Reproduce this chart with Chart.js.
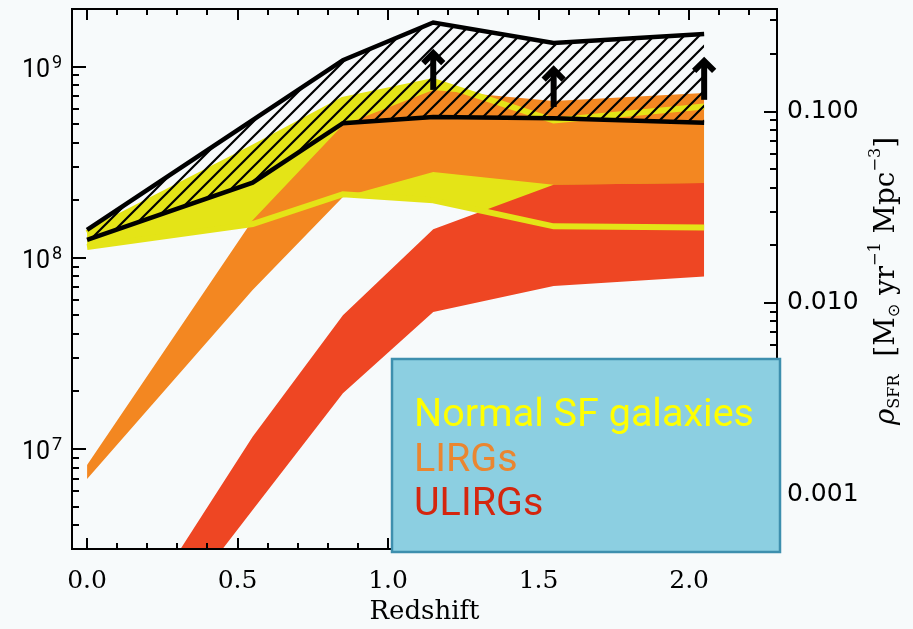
<!DOCTYPE html>
<html><head><meta charset="utf-8">
<script src="https://cdn.jsdelivr.net/npm/chart.js@4.4.0/dist/chart.umd.min.js"></script>
<style>html,body{margin:0;padding:0;background:#f7fafb;} #wrap{width:913px;height:629px;}</style>
</head><body><div id="wrap"><canvas id="c" width="913" height="629"></canvas></div>
<script>
// ---- data ----
const redshift     = [0, 0.55, 0.85, 1.15, 1.55, 2.05];
const totalUpper   = [1.40e8, 5.25e8, 1.08e9, 1.70e9, 1.33e9, 1.48e9];
const totalLower   = [1.24e8, 2.47e8, 5.06e8, 5.45e8, 5.37e8, 5.09e8];
const normalUpper  = [1.35e8, 3.75e8, 6.70e8, 8.40e8, 5.22e8, 6.19e8];
const normalLower  = [1.14e8, 1.50e8, 2.15e8, 2.00e8, 1.46e8, 1.44e8];
const lirgUpper    = [8.24e6, 1.57e8, 4.95e8, 7.55e8, 6.60e8, 7.28e8];
const lirgLower    = [6.96e6, 6.78e7, 2.08e8, 2.81e8, 2.41e8, 2.46e8];
const ulirgUpper   = [5.2e5, 1.16e7, 5.01e7, 1.41e8, 2.41e8, 2.46e8];
const ulirgLower   = [3.6e5, 4.8e6, 1.96e7, 5.2e7, 7.13e7, 7.98e7];
const arrowRedshift = [1.15, 1.55, 2.05];
const arrowFrom     = [7.55e8, 6.15e8, 6.70e8];
const arrowTo       = [1.22e9, 1.00e9, 1.11e9];
const xTickValues   = [0, 0.5, 1.0, 1.5, 2.0];
const xTickLabels   = ['0.0', '0.5', '1.0', '1.5', '2.0'];
const xMinorStep    = 0.1;
const yTickValues   = [1e7, 1e8, 1e9];
const yTickBases    = ['10', '10', '10'];
const yTickExps     = ['7', '8', '9'];
const sfrTickValues = [0.001, 0.01, 0.1];
const sfrTickLabels = ['0.001', '0.010', '0.100'];
const seriesNames   = ['Normal SF galaxies', 'LIRGs', 'ULIRGs'];
const xLabel = 'Redshift';
const lumToSfr = 1.72e-10;
const xMin = -0.05, xMax = 2.292;
const yMin = 3e6, yMax = 2e9;

// ---- styles ----
const C_YEL = '#e4e417', C_ORA = '#f38721', C_RED = '#ee4623';
const T_YEL = '#ffff00', T_ORA = '#ea8630', T_RED = '#d4260e';

function pts(arr) { return redshift.map((x, i) => ({x: x, y: arr[i]})); }
function hatchPattern() {
  const c = document.createElement('canvas'); c.width = 15; c.height = 15;
  const g = c.getContext('2d');
  g.strokeStyle = '#000'; g.lineWidth = 2.2;
  g.beginPath();
  g.moveTo(-3, 18); g.lineTo(18, -3);
  g.moveTo(-3, 3); g.lineTo(3, -3);
  g.moveTo(12, 18); g.lineTo(18, 12);
  g.stroke();
  return g.createPattern(c, 'repeat');
}
function ds(arr, opts) {
  return Object.assign({data: pts(arr), pointRadius: 0, pointHoverRadius: 0, borderWidth: 0,
    borderColor: 'transparent', backgroundColor: 'transparent', fill: false, tension: 0}, opts);
}
const datasets = [
  ds(normalLower, {label: 'normalLowerEdge'}),                                  // 0
  ds(normalUpper, {label: seriesNames[0], fill: 0, backgroundColor: C_YEL}),   // 1
  ds(lirgLower,   {label: 'lirgLowerEdge'}),                                    // 2
  ds(lirgUpper,   {label: seriesNames[1], fill: 2, backgroundColor: C_ORA}),   // 3
  ds(ulirgLower,  {label: 'ulirgLowerEdge'}),                                   // 4
  ds(ulirgUpper,  {label: seriesNames[2], fill: 4, backgroundColor: C_RED}),   // 5
  ds(normalLower, {label: 'normalLowerLine', borderColor: C_YEL, borderWidth: 6}), // 6
  ds(normalUpper, {label: 'normalUpperLine', borderColor: C_YEL, borderWidth: 6}), // 7
  ds(totalLower,  {label: 'totalLower', borderColor: '#000', borderWidth: 4.5}),     // 8
  ds(totalUpper,  {label: 'totalUpper', borderColor: '#000', borderWidth: 4.5, fill: 8, backgroundColor: hatchPattern()}) // 9
];
datasets.forEach((d, i) => { d.order = 100 - i; d.borderJoinStyle = 'miter'; });

function mantInt(v) {
  const e = Math.floor(Math.log10(v) + 1e-9);
  const m = v / Math.pow(10, e);
  return Math.abs(m - Math.round(m)) < 1e-6 ? Math.round(m) : 0;
}
function labelFor(values, labels, v) {
  const k = values.findIndex(t => Math.abs(v - t) <= 1e-6 * Math.max(Math.abs(t), 1e-9));
  return k >= 0 ? labels[k] : '';
}
function noPad(s) { s.paddingTop = 0; s.paddingBottom = 0; s.paddingLeft = 0; s.paddingRight = 0; }

const bgPlugin = {
  id: 'bg',
  beforeDraw(chart) {
    const ctx = chart.ctx; ctx.save(); ctx.fillStyle = '#f7fafb';
    ctx.fillRect(0, 0, chart.width, chart.height); ctx.restore();
  }
};

const framePlugin = {
  id: 'frame',
  afterDatasetsDraw(chart) {
    const ctx = chart.ctx, a = chart.chartArea, sx = chart.scales.x, sy = chart.scales.y, s2 = chart.scales.y2;
    ctx.save();
    // arrows (lower limits)
    ctx.strokeStyle = '#000'; ctx.lineWidth = 6; ctx.lineJoin = 'miter'; ctx.lineCap = 'butt';
    arrowRedshift.forEach((z, i) => {
      const px = sx.getPixelForValue(z), y0 = sy.getPixelForValue(arrowFrom[i]), y1 = sy.getPixelForValue(arrowTo[i]);
      ctx.beginPath(); ctx.moveTo(px, y0); ctx.lineTo(px, y1 + 3); ctx.stroke();
      ctx.beginPath(); ctx.moveTo(px - 10, y1 + 13); ctx.lineTo(px, y1 + 3); ctx.lineTo(px + 10, y1 + 13); ctx.stroke();
    });
    // frame
    ctx.lineWidth = 2; ctx.lineCap = 'square';
    ctx.strokeRect(a.left, a.top, a.right - a.left, a.bottom - a.top);
    ctx.lineCap = 'butt';
    const line = (x0, y0, x1, y1) => { ctx.beginPath(); ctx.moveTo(x0, y0); ctx.lineTo(x1, y1); ctx.stroke(); };
    sx.ticks.forEach(t => {
      const v = t.value;
      const major = xTickValues.some(m => Math.abs(m - v) < 1e-6);
      const px = Math.round(sx.getPixelForValue(v));
      const L = major ? 11 : 6;
      line(px, a.bottom, px, a.bottom - L);
      line(px, a.top, px, a.top + L);
    });
    sy.ticks.forEach(t => {
      const m = mantInt(t.value); if (!m) return;
      const py = Math.round(sy.getPixelForValue(t.value));
      line(a.left, py, a.left + (m === 1 ? 14 : 7), py);
    });
    s2.ticks.forEach(t => {
      const m = mantInt(t.value); if (!m) return;
      const py = Math.round(s2.getPixelForValue(t.value));
      line(a.right, py, a.right - (m === 1 ? 13 : 7), py);
    });
    // left tick labels: 10^n
    ctx.fillStyle = '#000'; ctx.textBaseline = 'alphabetic';
    yTickValues.forEach((v, i) => {
      const py = sy.getPixelForValue(v);
      ctx.font = '25px Roboto'; ctx.textAlign = 'right';
      ctx.fillText(yTickBases[i], a.left - 22, py + 10);
      ctx.font = '18px Roboto'; ctx.textAlign = 'left';
      ctx.fillText(yTickExps[i], a.left - 20, py + 1);
    });
    ctx.restore();
  },
  afterDraw(chart) {
    const ctx = chart.ctx;
    ctx.save();
    // right axis title: rho_SFR [M_sun yr^-1 Mpc^-3]
    const big = 26, small = 15;
    const parts = [
      {t: '\u03C1', f: 'italic ' + big + 'px "DejaVu Serif"', dy: 0},
      {t: 'SFR', f: small + 'px "DejaVu Serif"', dy: 5},
      {t: '  [M', f: big + 'px "DejaVu Serif"', dy: 0},
      {t: '\u2299', f: small + 'px "DejaVu Sans"', dy: 5},
      {t: ' yr', f: big + 'px "DejaVu Serif"', dy: 0},
      {t: '\u22121', f: small + 'px "DejaVu Serif"', dy: -13},
      {t: ' Mpc', f: big + 'px "DejaVu Serif"', dy: 0},
      {t: '\u22123', f: small + 'px "DejaVu Serif"', dy: -13},
      {t: ']', f: big + 'px "DejaVu Serif"', dy: 0}
    ];
    let total = 0;
    parts.forEach(p => { ctx.font = p.f; p.w = ctx.measureText(p.t).width; total += p.w; });
    const span = 288, scale = span / total;
    ctx.translate(894, 281);
    ctx.rotate(-Math.PI / 2);
    ctx.scale(scale, scale);
    ctx.fillStyle = '#000'; ctx.textBaseline = 'alphabetic'; ctx.textAlign = 'left';
    let x = -total / 2;
    parts.forEach(p => { ctx.font = p.f; ctx.fillText(p.t, x, p.dy); x += p.w; });
    ctx.restore();

    // legend box
    ctx.save();
    const bx = 392, by = 359, bw = 388, bh = 193;
    ctx.fillStyle = '#8ccfe1'; ctx.fillRect(bx, by, bw, bh);
    ctx.strokeStyle = '#3e8fae'; ctx.lineWidth = 2.5; ctx.strokeRect(bx, by, bw, bh);
    const cols = [T_YEL, T_ORA, T_RED], base = [426, 471, 515];
    ctx.font = '38px Roboto';
    const sc = 340 / ctx.measureText(seriesNames[0]).width;
    ctx.textBaseline = 'alphabetic'; ctx.textAlign = 'left';
    seriesNames.forEach((n, i) => {
      ctx.save(); ctx.translate(414, base[i]); ctx.scale(sc, 1);
      ctx.fillStyle = cols[i]; ctx.fillText(n, 0, 0); ctx.restore();
    });
    ctx.restore();
  }
};

new Chart(document.getElementById('c'), {
  type: 'line',
  data: {datasets: datasets},
  options: {
    responsive: false, animation: false, devicePixelRatio: 1,
    layout: {padding: {top: 9, left: 0, right: 0, bottom: 0}},
    plugins: {legend: {display: false}, tooltip: {enabled: false}, filler: {propagate: false}},
    scales: {
      x: {type: 'linear', position: 'bottom', min: xMin, max: xMax,
          grid: {display: false, drawTicks: false}, border: {display: false},
          ticks: {autoSkip: false, maxRotation: 0, minRotation: 0, padding: 17, color: '#000',
                  font: {family: 'DejaVu Serif', size: 25},
                  callback: (v) => labelFor(xTickValues, xTickLabels, v)},
          afterBuildTicks: (s) => {
            const t = [];
            for (let k = 0; k * xMinorStep <= xMax + 1e-9; k++) t.push({value: Math.round(k * xMinorStep * 10) / 10});
            s.ticks = t;
          },
          title: {display: true, text: xLabel, color: '#000', font: {family: 'DejaVu Serif', size: 26}, padding: {top: 0, bottom: 1}},
          afterFit: (s) => { s.height = 80; noPad(s); }},
      y: {type: 'logarithmic', position: 'left', min: yMin, max: yMax,
          grid: {display: false, drawTicks: false}, border: {display: false},
          ticks: {display: false, autoSkip: false},
          afterFit: (s) => { s.width = 72; noPad(s); }},
      y2: {type: 'logarithmic', position: 'right', min: yMin * lumToSfr, max: yMax * lumToSfr,
          grid: {display: false, drawTicks: false}, border: {display: false},
          ticks: {autoSkip: false, padding: 10, color: '#000', font: {family: 'DejaVu Sans', size: 25},
                  callback: (v) => labelFor(sfrTickValues, sfrTickLabels, v)},
          afterFit: (s) => { s.width = 136; noPad(s); }}
    }
  },
  plugins: [bgPlugin, framePlugin]
});
</script>
</body></html>
